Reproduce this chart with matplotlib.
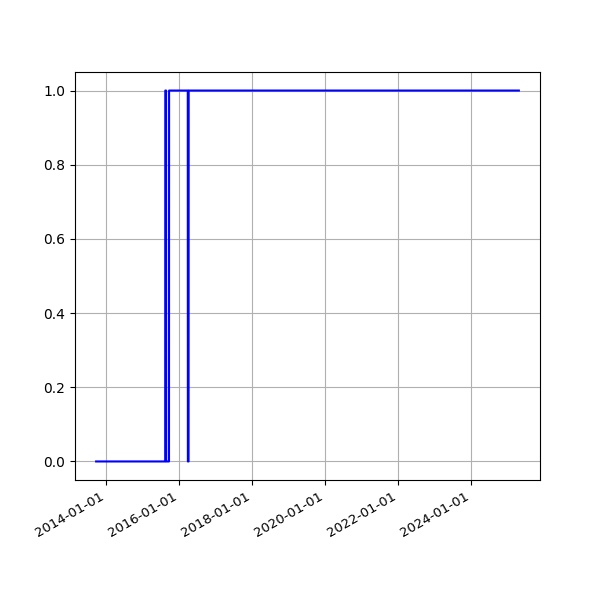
import matplotlib
matplotlib.use("Agg")
import matplotlib.pyplot as plt
import matplotlib.dates as mdates
import pandas as pd

dates = ['2013-09-21', '2015-08-13', '2015-08-14', '2015-08-22',
         '2015-08-23', '2015-09-20', '2015-09-21', '2016-03-26',
         '2016-03-27', '2016-04-03', '2016-04-04', '2025-04-21']
values = [0, 0, 1, 1, 0, 0, 1, 1, 0, 0, 1, 1]

x = pd.to_datetime(dates)

fig, ax = plt.subplots(figsize=(6, 6), dpi=100)
ax.plot(x, values, color='blue')
ax.xaxis.set_major_locator(mdates.YearLocator(2))
ax.xaxis.set_major_formatter(mdates.DateFormatter('%Y-%m-%d'))
ax.grid(True)
fig.autofmt_xdate()
for lbl in ax.get_xticklabels():
    lbl.set_fontsize(9.5)
fig.savefig('out.png', dpi=100)
